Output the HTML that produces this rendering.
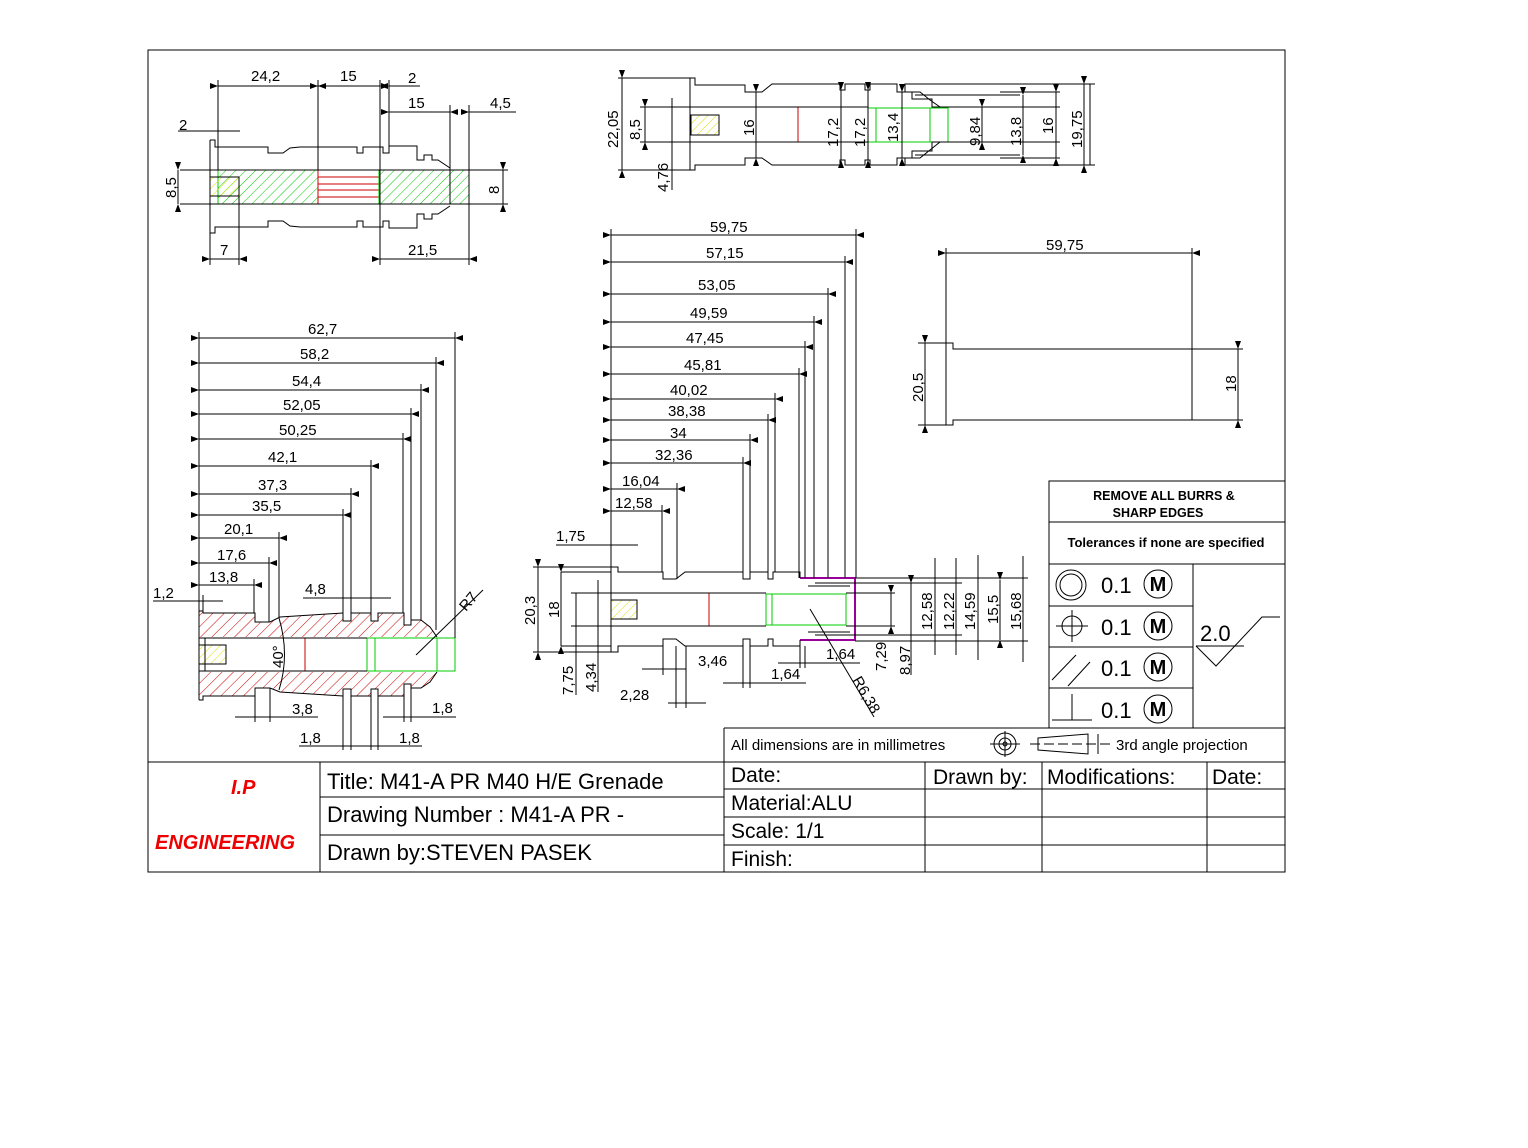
<!DOCTYPE html>
<html><head><meta charset="utf-8"><style>
html,body{margin:0;padding:0;background:#fff}
svg{display:block}
text{font-family:"Liberation Sans",sans-serif;fill:#000}
.d{font-size:15px}
</style></head><body>
<svg width="1528" height="1148" viewBox="0 0 1528 1148" xmlns="http://www.w3.org/2000/svg">
<defs>
<marker id="a" markerWidth="8" markerHeight="6" refX="0" refY="3" orient="auto-start-reverse" markerUnits="userSpaceOnUse"><path d="M0,3 L8,0 L8,6z" fill="#000"/></marker>
<pattern id="hg" width="7" height="7" patternUnits="userSpaceOnUse" patternTransform="rotate(45)"><line x1="0" y1="0" x2="0" y2="7" stroke="#0c0" stroke-width="1"/></pattern>
<pattern id="hr" width="8" height="8" patternUnits="userSpaceOnUse" patternTransform="rotate(45)"><line x1="0" y1="0" x2="0" y2="8" stroke="#c00" stroke-width="1"/></pattern>
<pattern id="hy" width="6" height="6" patternUnits="userSpaceOnUse" patternTransform="rotate(45)"><line x1="0" y1="0" x2="0" y2="6" stroke="#dd0" stroke-width="1"/></pattern>
</defs>
<g fill="none" stroke="#000" stroke-width="1">
<!-- frame -->
<rect x="148" y="50" width="1137" height="822"/>
<line x1="148" y1="762" x2="1285" y2="762"/>
<line x1="320" y1="762" x2="320" y2="872"/>
<line x1="724" y1="728" x2="724" y2="872"/>
<line x1="724" y1="728" x2="1285" y2="728"/>
<line x1="320" y1="797" x2="724" y2="797"/>
<line x1="320" y1="835" x2="724" y2="835"/>
<line x1="724" y1="789" x2="1285" y2="789"/>
<line x1="724" y1="817" x2="1285" y2="817"/>
<line x1="724" y1="845" x2="1285" y2="845"/>
<line x1="925" y1="762" x2="925" y2="872"/>
<line x1="1042" y1="762" x2="1042" y2="872"/>
<line x1="1207" y1="762" x2="1207" y2="872"/>
<!-- tolerance box -->
<polyline points="1049,728 1049,481 1285,481"/>
<line x1="1049" y1="522" x2="1285" y2="522"/>
<line x1="1049" y1="564" x2="1285" y2="564"/>
<line x1="1049" y1="606" x2="1193" y2="606"/>
<line x1="1049" y1="647" x2="1193" y2="647"/>
<line x1="1049" y1="688" x2="1193" y2="688"/>
<line x1="1193" y1="564" x2="1193" y2="728"/>
<circle cx="1071" cy="585" r="15"/><circle cx="1071" cy="585" r="11"/>
<circle cx="1072" cy="626" r="10"/><line x1="1056" y1="626" x2="1088" y2="626"/><line x1="1072" y1="610" x2="1072" y2="642"/>
<line x1="1052" y1="680" x2="1076" y2="655"/><line x1="1068" y1="686" x2="1090" y2="662"/>
<line x1="1072" y1="694" x2="1072" y2="720"/><line x1="1052" y1="720" x2="1092" y2="720"/>
<circle cx="1158" cy="584" r="14"/><circle cx="1158" cy="626" r="14"/><circle cx="1158" cy="667" r="14"/><circle cx="1158" cy="709" r="14"/>
<polyline points="1196,646 1244,646"/><polyline points="1196,646 1216,666 1262,617 1280,617"/>
<!-- projection symbol -->
<circle cx="1005" cy="744" r="11"/><circle cx="1005" cy="744" r="6"/><circle cx="1005" cy="744" r="2"/>
<line x1="990" y1="744" x2="1020" y2="744"/><line x1="1005" y1="731" x2="1005" y2="757"/>
<polygon points="1038,738 1088,734 1088,754 1038,750"/><line x1="1030" y1="744" x2="1110" y2="744" stroke-dasharray="10,4"/><line x1="1098" y1="734" x2="1098" y2="754"/>
</g>
<!-- title block text -->
<text x="231" y="794" style="font-size:20px;font-style:italic;font-weight:bold;fill:#e00">I.P</text>
<text x="155" y="849" style="font-size:20px;font-style:italic;font-weight:bold;fill:#e00">ENGINEERING</text>
<text x="327" y="789" style="font-size:22px">Title: M41-A PR M40 H/E Grenade</text>
<text x="327" y="822" style="font-size:22px">Drawing Number : M41-A PR -</text>
<text x="327" y="860" style="font-size:22px">Drawn by:STEVEN PASEK</text>
<text x="731" y="782" style="font-size:21px">Date:</text>
<text x="731" y="810" style="font-size:21px">Material:ALU</text>
<text x="731" y="838" style="font-size:21px">Scale: 1/1</text>
<text x="731" y="866" style="font-size:21px">Finish:</text>
<text x="933" y="784" style="font-size:21px">Drawn by:</text>
<text x="1047" y="784" style="font-size:21px">Modifications:</text>
<text x="1212" y="784" style="font-size:21px">Date:</text>
<text x="731" y="750" style="font-size:15px">All dimensions are in millimetres</text>
<text x="1116" y="750" style="font-size:15px">3rd angle projection</text>
<text x="1164" y="500" text-anchor="middle" style="font-size:12.5px;font-weight:bold">REMOVE ALL BURRS &amp;</text>
<text x="1158" y="517" text-anchor="middle" style="font-size:12.5px;font-weight:bold">SHARP EDGES</text>
<text x="1166" y="547" text-anchor="middle" style="font-size:13px;font-weight:bold">Tolerances if none are specified</text>
<g style="font-size:22px"><text x="1101" y="593">0.1</text><text x="1101" y="635">0.1</text><text x="1101" y="676">0.1</text><text x="1101" y="718">0.1</text></g>
<g style="font-size:20px;font-weight:bold" text-anchor="middle"><text x="1158" y="591">M</text><text x="1158" y="633">M</text><text x="1158" y="674">M</text><text x="1158" y="716">M</text></g>
<text x="1200" y="641" style="font-size:22px">2.0</text>

<!-- VIEW 1 top-left -->
<rect x="218" y="170" width="100" height="34" fill="url(#hg)" stroke="#0c0"/>
<rect x="318" y="170" width="61" height="34" fill="#fff" stroke="#c00"/>
<g stroke="#c00"><line x1="318" y1="177" x2="379" y2="177"/><line x1="318" y1="184" x2="379" y2="184"/><line x1="318" y1="190" x2="379" y2="190"/><line x1="318" y1="197" x2="379" y2="197"/></g>
<rect x="379" y="170" width="90" height="34" fill="url(#hg)" stroke="#0c0"/>
<rect x="210" y="177" width="29" height="19" fill="url(#hy)" stroke="#000"/>
<g fill="none" stroke="#000">
<polyline points="210,140 210,233"/>
<polyline points="210,140 215,140 215,147 268,147 268,153 283,153 290,148 300,147 357,147 357,153 363,153 363,147 380,147 383,147 383,153 389,153 389,146 417,146 417,160 424,160 424,155 432,155 432,160 438,160 450,168 450,204"/>
<polyline points="210,233 215,233 215,227 268,227 268,221 283,221 290,226 300,227 357,227 357,221 363,221 363,227 383,227 383,221 389,221 389,228 417,228 417,214 424,214 424,219 432,219 432,214 438,214 450,206"/>
<line x1="180" y1="170" x2="508" y2="170"/><line x1="180" y1="204" x2="508" y2="204"/>
<line x1="218" y1="80" x2="218" y2="170"/><line x1="318" y1="80" x2="318" y2="170"/><line x1="380" y1="80" x2="380" y2="265"/><line x1="389" y1="80" x2="389" y2="146"/>
<line x1="450" y1="105" x2="450" y2="170"/><line x1="469" y1="105" x2="469" y2="265"/><line x1="239" y1="196" x2="239" y2="265"/><line x1="210" y1="233" x2="210" y2="265"/>
<line x1="218" y1="86" x2="318" y2="86" marker-start="url(#a)" marker-end="url(#a)"/>
<line x1="318" y1="86" x2="380" y2="86" marker-start="url(#a)" marker-end="url(#a)"/>
<line x1="389" y1="86" x2="420" y2="86" marker-start="url(#a)"/>
<line x1="389" y1="112" x2="450" y2="112" marker-start="url(#a)" marker-end="url(#a)"/>
<line x1="469" y1="112" x2="516" y2="112" marker-start="url(#a)"/>
<line x1="178" y1="131" x2="240" y2="131"/>
<line x1="178" y1="170" x2="178" y2="204" marker-start="url(#a)" marker-end="url(#a)"/>
<line x1="503" y1="170" x2="503" y2="204" marker-start="url(#a)" marker-end="url(#a)"/>
<line x1="210" y1="259" x2="239" y2="259" marker-start="url(#a)" marker-end="url(#a)"/>
<line x1="380" y1="259" x2="469" y2="259" marker-start="url(#a)" marker-end="url(#a)"/>
</g>
<g class="d"><text x="251" y="81">24,2</text><text x="340" y="81">15</text><text x="408" y="83">2</text><text x="408" y="108">15</text><text x="490" y="108">4,5</text><text x="179" y="130">2</text><text x="220" y="255">7</text><text x="408" y="255">21,5</text>
<text transform="translate(176,198) rotate(-90)">8,5</text><text transform="translate(499,194) rotate(-90)">8</text></g>

<!-- VIEW 2 top-middle -->
<rect x="868" y="108" width="80" height="34" fill="none" stroke="#0c0"/><line x1="876" y1="108" x2="876" y2="142" stroke="#0c0"/><line x1="930" y1="108" x2="930" y2="142" stroke="#0c0"/>
<line x1="798" y1="107" x2="798" y2="142" stroke="#c00"/>
<rect x="691" y="115" width="28" height="20" fill="url(#hy)" stroke="#000"/>
<g fill="none" stroke="#000">
<polyline points="690,78 690,170 695,170 695,165 745,165 745,158 762,158 772,165 840,165 840,160 845,160 845,165 865,165 865,160 870,160 870,165 897,165 897,158 905,158 905,165 1090,165 1090,84 905,84 905,92 897,92 897,84 870,84 870,90 865,90 865,84 845,84 845,90 840,90 840,84 772,84 762,92 745,92 745,85 695,85 695,78 690,78"/>
<line x1="640" y1="107" x2="868" y2="107"/><line x1="640" y1="142" x2="868" y2="142"/>
<polyline points="905,92 920,92 930,100 940,107 948,107"/><polyline points="905,158 920,158 930,150 940,142 948,142"/>
<polyline points="912,92 912,99 932,99 932,107 1060,107"/><polyline points="912,158 912,151 932,151 932,142 1060,142"/>
<line x1="915" y1="95" x2="1020" y2="95"/><line x1="915" y1="155" x2="1020" y2="155"/>
<line x1="618" y1="78" x2="690" y2="78"/><line x1="618" y1="170" x2="690" y2="170"/>
<line x1="622" y1="78" x2="622" y2="170" marker-start="url(#a)" marker-end="url(#a)"/>
<line x1="645" y1="107" x2="645" y2="142" marker-start="url(#a)" marker-end="url(#a)"/>
<line x1="672" y1="98" x2="672" y2="190"/>
<line x1="756" y1="92" x2="756" y2="158" marker-start="url(#a)" marker-end="url(#a)"/>
<line x1="841" y1="90" x2="841" y2="160" marker-start="url(#a)" marker-end="url(#a)"/>
<line x1="868" y1="90" x2="868" y2="160" marker-start="url(#a)" marker-end="url(#a)"/>
<line x1="902" y1="92" x2="902" y2="158" marker-start="url(#a)" marker-end="url(#a)"/>
<line x1="982" y1="107" x2="982" y2="142" marker-start="url(#a)" marker-end="url(#a)"/>
<line x1="1023" y1="95" x2="1023" y2="155" marker-start="url(#a)" marker-end="url(#a)"/>
<line x1="1056" y1="92" x2="1056" y2="158" marker-start="url(#a)" marker-end="url(#a)"/>
<line x1="1084" y1="84" x2="1084" y2="165" marker-start="url(#a)" marker-end="url(#a)"/>
<line x1="1000" y1="92" x2="1060" y2="92"/><line x1="1000" y1="158" x2="1060" y2="158"/>
<line x1="1090" y1="84" x2="1095" y2="84"/><line x1="1090" y1="165" x2="1095" y2="165"/>
</g>
<g class="d">
<text transform="translate(618,148) rotate(-90)">22,05</text><text transform="translate(640,140) rotate(-90)">8,5</text><text transform="translate(668,192) rotate(-90)">4,76</text>
<text transform="translate(754,136) rotate(-90)">16</text><text transform="translate(838,147) rotate(-90)">17,2</text><text transform="translate(865,147) rotate(-90)">17,2</text>
<text transform="translate(898,142) rotate(-90)">13,4</text><text transform="translate(980,146) rotate(-90)">9,84</text><text transform="translate(1021,146) rotate(-90)">13,8</text>
<text transform="translate(1053,134) rotate(-90)">16</text><text transform="translate(1082,148) rotate(-90)">19,75</text></g>

<!-- VIEW 3 right -->
<g fill="none" stroke="#000">
<polyline points="946,343 953,343 953,349 1192,349 1192,420 953,420 953,425 946,425 946,343"/>
<line x1="946" y1="248" x2="946" y2="343"/><line x1="1192" y1="248" x2="1192" y2="349"/>
<line x1="946" y1="253" x2="1192" y2="253" marker-start="url(#a)" marker-end="url(#a)"/>
<line x1="918" y1="343" x2="946" y2="343"/><line x1="918" y1="425" x2="946" y2="425"/>
<line x1="925" y1="343" x2="925" y2="425" marker-start="url(#a)" marker-end="url(#a)"/>
<line x1="1192" y1="349" x2="1243" y2="349"/><line x1="1192" y1="420" x2="1243" y2="420"/>
<line x1="1238" y1="349" x2="1238" y2="420" marker-start="url(#a)" marker-end="url(#a)"/>
</g>
<g class="d"><text x="1046" y="250">59,75</text><text transform="translate(923,402) rotate(-90)">20,5</text><text transform="translate(1236,392) rotate(-90)">18</text></g>

<!-- VIEW 4 main middle -->
<rect x="766" y="594" width="80" height="31" fill="none" stroke="#0c0"/><line x1="772" y1="594" x2="772" y2="625" stroke="#0c0"/>
<line x1="709" y1="593" x2="709" y2="626" stroke="#c00"/>
<rect x="611" y="600" width="26" height="19" fill="url(#hy)" stroke="#000"/>
<polyline points="800,578 855,578 855,640 800,640" fill="none" stroke="#909" stroke-width="2"/>
<g fill="none" stroke="#000">
<polyline points="611,567 618,567 618,572 663,572 663,579 676,579 685,572 743,572 743,579 750,579 750,572 768,572 768,579 773,579 773,572 800,572 800,578"/>
<polyline points="611,652 618,652 618,646 663,646 663,639 676,639 685,646 743,646 743,639 750,639 750,646 768,646 768,639 773,639 773,646 800,646 800,640"/>
<line x1="611" y1="567" x2="611" y2="652"/>
<line x1="571" y1="593" x2="766" y2="593"/><line x1="571" y1="626" x2="766" y2="626"/>
<line x1="846" y1="593" x2="895" y2="593"/><line x1="846" y1="626" x2="895" y2="626"/>
<line x1="815" y1="583" x2="962" y2="583"/><line x1="815" y1="635" x2="962" y2="635"/>
<line x1="855" y1="578" x2="1028" y2="578"/><line x1="855" y1="641" x2="1028" y2="641"/>
<line x1="808" y1="586" x2="850" y2="586"/><line x1="808" y1="632" x2="850" y2="632"/>
<!-- vertical extension lines -->
<line x1="611" y1="229" x2="611" y2="567"/>
<line x1="662" y1="505" x2="662" y2="572"/><line x1="677" y1="483" x2="677" y2="579"/>
<line x1="743" y1="457" x2="743" y2="572"/><line x1="750" y1="434" x2="750" y2="572"/>
<line x1="768" y1="414" x2="768" y2="572"/><line x1="775" y1="393" x2="775" y2="572"/>
<line x1="799" y1="368" x2="799" y2="578"/><line x1="805" y1="341" x2="805" y2="578"/>
<line x1="814" y1="316" x2="814" y2="578"/><line x1="828" y1="288" x2="828" y2="578"/>
<line x1="845" y1="256" x2="845" y2="578"/><line x1="856" y1="229" x2="856" y2="578"/>
<line x1="611" y1="235" x2="856" y2="235" marker-start="url(#a)" marker-end="url(#a)"/>
<line x1="611" y1="262" x2="845" y2="262" marker-start="url(#a)" marker-end="url(#a)"/>
<line x1="611" y1="294" x2="828" y2="294" marker-start="url(#a)" marker-end="url(#a)"/>
<line x1="611" y1="322" x2="814" y2="322" marker-start="url(#a)" marker-end="url(#a)"/>
<line x1="611" y1="347" x2="805" y2="347" marker-start="url(#a)" marker-end="url(#a)"/>
<line x1="611" y1="374" x2="799" y2="374" marker-start="url(#a)" marker-end="url(#a)"/>
<line x1="611" y1="399" x2="775" y2="399" marker-start="url(#a)" marker-end="url(#a)"/>
<line x1="611" y1="420" x2="768" y2="420" marker-start="url(#a)" marker-end="url(#a)"/>
<line x1="611" y1="440" x2="750" y2="440" marker-start="url(#a)" marker-end="url(#a)"/>
<line x1="611" y1="463" x2="743" y2="463" marker-start="url(#a)" marker-end="url(#a)"/>
<line x1="611" y1="489" x2="677" y2="489" marker-start="url(#a)" marker-end="url(#a)"/>
<line x1="611" y1="511" x2="662" y2="511" marker-start="url(#a)" marker-end="url(#a)"/>
<line x1="556" y1="545" x2="638" y2="545"/>
<line x1="533" y1="567" x2="611" y2="567"/><line x1="533" y1="652" x2="611" y2="652"/>
<line x1="538" y1="567" x2="538" y2="652" marker-start="url(#a)" marker-end="url(#a)"/>
<line x1="561" y1="572" x2="611" y2="572"/><line x1="561" y1="646" x2="611" y2="646"/>
<line x1="561" y1="572" x2="561" y2="646" marker-start="url(#a)" marker-end="url(#a)"/>
<line x1="576" y1="593" x2="576" y2="695"/><line x1="598" y1="580" x2="598" y2="692"/>
<line x1="663" y1="646" x2="663" y2="675"/><line x1="676" y1="646" x2="676" y2="708"/><line x1="686" y1="646" x2="686" y2="708"/>
<line x1="642" y1="669" x2="686" y2="669"/><line x1="668" y1="703" x2="706" y2="703"/>
<line x1="750" y1="646" x2="750" y2="688"/><line x1="743" y1="646" x2="743" y2="688"/><line x1="723" y1="683" x2="806" y2="683"/>
<line x1="800" y1="646" x2="800" y2="668"/><line x1="805" y1="646" x2="805" y2="668"/><line x1="778" y1="663" x2="860" y2="663"/>
<line x1="810" y1="609" x2="874" y2="717"/>
<line x1="891" y1="593" x2="891" y2="626" marker-start="url(#a)" marker-end="url(#a)"/>
<line x1="911" y1="583" x2="911" y2="675" marker-start="url(#a)"/>
<line x1="935" y1="558" x2="935" y2="655"/><line x1="956" y1="558" x2="956" y2="655"/>
<line x1="978" y1="555" x2="978" y2="660"/><line x1="1000" y1="580" x2="1000" y2="640" marker-start="url(#a)" marker-end="url(#a)"/>
<line x1="1023" y1="556" x2="1023" y2="662"/>
</g>
<g class="d">
<text x="710" y="232">59,75</text><text x="706" y="258">57,15</text><text x="698" y="290">53,05</text><text x="690" y="318">49,59</text>
<text x="686" y="343">47,45</text><text x="684" y="370">45,81</text><text x="670" y="395">40,02</text><text x="668" y="416">38,38</text>
<text x="670" y="438">34</text><text x="655" y="460">32,36</text><text x="622" y="486">16,04</text><text x="615" y="508">12,58</text>
<text x="556" y="541">1,75</text><text x="698" y="666">3,46</text><text x="620" y="700">2,28</text><text x="771" y="679">1,64</text><text x="826" y="659">1,64</text>
<text transform="translate(535,625) rotate(-90)">20,3</text><text transform="translate(559,618) rotate(-90)">18</text>
<text transform="translate(573,695) rotate(-90)">7,75</text><text transform="translate(596,692) rotate(-90)">4,34</text>
<text transform="translate(886,671) rotate(-90)">7,29</text><text transform="translate(910,675) rotate(-90)">8,97</text>
<text transform="translate(932,630) rotate(-90)">12,58</text><text transform="translate(954,630) rotate(-90)">12,22</text><text transform="translate(975,630) rotate(-90)">14,59</text>
<text transform="translate(998,624) rotate(-90)">15,5</text><text transform="translate(1021,630) rotate(-90)">15,68</text>
<text transform="translate(852,680) rotate(60)">R6,38</text></g>

<!-- VIEW 5 bottom-left -->
<path d="M199,611 L203,611 L203,613 L255,613 L255,622 L270,622 L280,617 L343,613 L343,621 L351,621 L351,613 L371,613 L371,621 L378,621 L378,613 L404,613 L404,625 L411,625 L411,620 L421,620 L430,627 L437,637 L199,637Z" fill="url(#hr)" stroke="none"/>
<path d="M199,698 L203,698 L203,696 L255,696 L255,688 L270,688 L280,692 L343,696 L343,689 L351,689 L351,696 L371,696 L371,689 L378,689 L378,696 L404,696 L404,684 L411,684 L411,688 L421,688 L430,682 L437,672 L199,672Z" fill="url(#hr)" stroke="none"/>
<rect x="367" y="638" width="88" height="33" fill="none" stroke="#0c0"/><line x1="375" y1="638" x2="375" y2="671" stroke="#0c0"/><line x1="437" y1="638" x2="437" y2="671" stroke="#0c0"/>
<line x1="305" y1="638" x2="305" y2="671" stroke="#c00"/>
<rect x="199" y="645" width="27" height="19" fill="url(#hy)" stroke="#000"/>
<g fill="none" stroke="#000">
<polyline points="199,611 203,611 203,613 255,613 255,622 270,622 280,617 343,613"/>
<polyline points="343,613 343,621 351,621 351,613 371,613 371,621 378,621 378,613 404,613 404,625 411,625 411,620 421,620 430,627 437,637"/>
<polyline points="199,700 203,700 203,696 255,696 255,688 270,688 280,692 343,696"/>
<polyline points="343,696 343,689 351,689 351,696 371,696 371,689 378,689 378,696 404,696 404,684 411,684 411,688 421,688 430,682 437,672"/>
<line x1="199" y1="611" x2="199" y2="700"/>
<line x1="199" y1="638" x2="367" y2="638"/><line x1="199" y1="671" x2="367" y2="671"/>
<line x1="205" y1="638" x2="205" y2="671"/>
<path d="M279,618 Q290,655 279,690" />
<line x1="199" y1="332" x2="199" y2="611"/>
<line x1="455" y1="332" x2="455" y2="638"/><line x1="436" y1="357" x2="436" y2="630"/><line x1="421" y1="384" x2="421" y2="620"/>
<line x1="411" y1="408" x2="411" y2="620"/><line x1="403" y1="433" x2="403" y2="613"/><line x1="371" y1="460" x2="371" y2="613"/>
<line x1="351" y1="488" x2="351" y2="613"/><line x1="343" y1="509" x2="343" y2="613"/><line x1="279" y1="532" x2="279" y2="617"/>
<line x1="269" y1="557" x2="269" y2="622"/><line x1="254" y1="579" x2="254" y2="613"/><line x1="203" y1="595" x2="203" y2="611"/>
<line x1="199" y1="338" x2="455" y2="338" marker-start="url(#a)" marker-end="url(#a)"/>
<line x1="199" y1="363" x2="436" y2="363" marker-start="url(#a)" marker-end="url(#a)"/>
<line x1="199" y1="390" x2="421" y2="390" marker-start="url(#a)" marker-end="url(#a)"/>
<line x1="199" y1="414" x2="411" y2="414" marker-start="url(#a)" marker-end="url(#a)"/>
<line x1="199" y1="439" x2="403" y2="439" marker-start="url(#a)" marker-end="url(#a)"/>
<line x1="199" y1="466" x2="371" y2="466" marker-start="url(#a)" marker-end="url(#a)"/>
<line x1="199" y1="494" x2="351" y2="494" marker-start="url(#a)" marker-end="url(#a)"/>
<line x1="199" y1="515" x2="343" y2="515" marker-start="url(#a)" marker-end="url(#a)"/>
<line x1="199" y1="538" x2="279" y2="538" marker-start="url(#a)" marker-end="url(#a)"/>
<line x1="199" y1="563" x2="269" y2="563" marker-start="url(#a)" marker-end="url(#a)"/>
<line x1="199" y1="585" x2="254" y2="585" marker-start="url(#a)" marker-end="url(#a)"/>
<line x1="153" y1="601" x2="223" y2="601"/>
<line x1="303" y1="598" x2="391" y2="598"/>
<line x1="416" y1="655" x2="483" y2="590"/>
<line x1="255" y1="696" x2="255" y2="722"/><line x1="270" y1="688" x2="270" y2="722"/><line x1="235" y1="717" x2="318" y2="717"/>
<line x1="343" y1="696" x2="343" y2="750"/><line x1="351" y1="696" x2="351" y2="750"/><line x1="371" y1="696" x2="371" y2="750"/><line x1="378" y1="696" x2="378" y2="750"/>
<line x1="299" y1="746" x2="422" y2="746"/>
<line x1="404" y1="696" x2="404" y2="722"/><line x1="411" y1="688" x2="411" y2="722"/><line x1="383" y1="717" x2="456" y2="717"/>
</g>
<g class="d">
<text x="308" y="334">62,7</text><text x="300" y="359">58,2</text><text x="292" y="386">54,4</text><text x="283" y="410">52,05</text>
<text x="279" y="435">50,25</text><text x="268" y="462">42,1</text><text x="258" y="490">37,3</text><text x="252" y="511">35,5</text>
<text x="224" y="534">20,1</text><text x="217" y="560">17,6</text><text x="209" y="582">13,8</text><text x="153" y="598">1,2</text>
<text x="305" y="594">4,8</text><text x="292" y="714">3,8</text><text x="300" y="743">1,8</text><text x="399" y="743">1,8</text><text x="432" y="713">1,8</text>
<text transform="translate(283,668) rotate(-90)">40°</text><text transform="translate(466,612) rotate(-50)">R7</text></g>
</svg>
</body></html>
